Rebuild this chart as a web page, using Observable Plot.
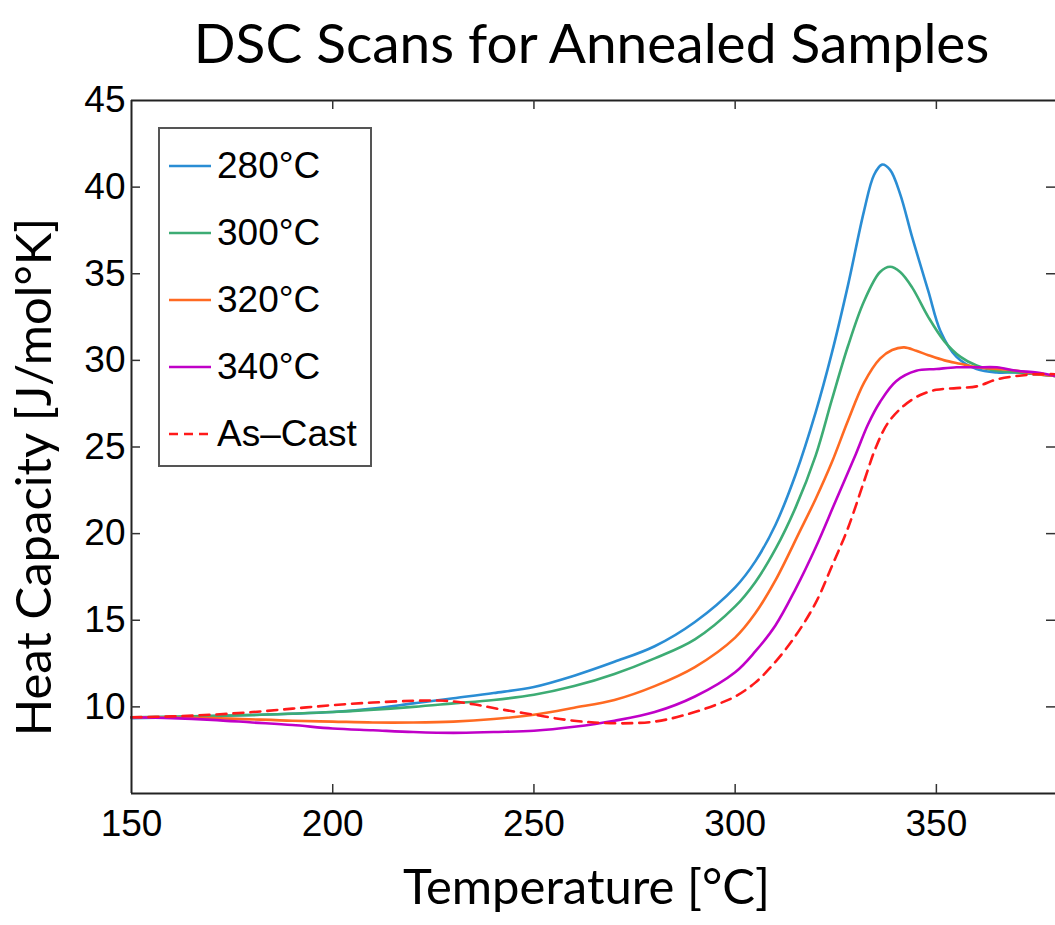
<!DOCTYPE html>
<html>
<head>
<meta charset="utf-8">
<script src="https://cdn.jsdelivr.net/npm/d3@7"></script>
<script src="https://cdn.jsdelivr.net/npm/@observablehq/plot@0.6"></script>
<style>
  body { margin: 0; background: #fff; }
  #wrap { position: relative; width: 1055px; height: 925px; overflow: hidden; background: #fff; }
  #legend { position: absolute; left: 158px; top: 127px; width: 210px; height: 336px;
            border: 2px solid #555; background: #fff; box-sizing: content-box; }
  .row { position: absolute; left: 0; height: 44px; display: flex; align-items: center; }
  .row svg { margin-left: 9px; margin-right: 6px; }
  .row span { font-family: "Liberation Sans", Arial, sans-serif; font-size: 37px; color: #000; line-height: 44px; }
</style>
</head>
<body>
<div id="wrap">
  <div id="chart"></div>
  <div id="legend"></div>
</div>
<script>
// ---- data ----
const seriesNames  = ["280°C", "300°C", "320°C", "340°C", "As–Cast"];
const seriesColors = ["#2a8dd4", "#3dac74", "#ff6a22", "#c000c8", "#ff1a1a"];
const xTicks = [150, 200, 250, 300, 350];
const yTicks = [10, 15, 20, 25, 30, 35, 40, 45];

const temps280 = [150,160,175,190,200,210,220,230,240,250,260,270,280,290,300,305,310,315,320,324,328,332,334.5,336.5,338.5,341,344,348,351,355,360,365,370,375,379.6];
const cp280    = [9.35,9.4,9.5,9.6,9.7,9.9,10.2,10.5,10.8,11.15,11.8,12.6,13.5,14.9,16.9,18.4,20.5,23.4,27.0,30.4,34.3,38.6,40.7,41.3,41.0,39.6,37.1,34.0,31.7,30.2,29.5,29.3,29.3,29.2,29.1];

const temps300 = [150,175,200,220,230,240,250,260,270,280,290,300,305,310,315,320,324,328,332,336,338.5,341,344,348,352,356,360,365,370,375,379.6];
const cp300    = [9.4,9.5,9.7,10.0,10.2,10.4,10.7,11.2,11.9,12.8,13.9,15.8,17.2,19.1,21.5,24.5,27.7,30.8,33.4,35.1,35.4,35.1,34.2,32.5,31.1,30.2,29.7,29.4,29.3,29.2,29.1];

const temps320 = [150,170,190,200,210,220,230,240,250,260,270,280,290,300,305,310,316,320,324,328,332,336,339,342,345,348,352,356,360,365,370,375,379.6];
const cp320    = [9.4,9.35,9.2,9.15,9.1,9.1,9.15,9.3,9.55,9.95,10.4,11.2,12.3,14.0,15.4,17.3,20.1,22.0,24.1,26.5,28.7,30.1,30.6,30.75,30.55,30.3,30.0,29.8,29.6,29.5,29.4,29.2,29.1];

const temps340 = [150,160,170,180,190,200,210,220,230,240,250,260,270,280,290,300,305,310,315,320,325,330,333,336,340,345,350,355,360,365,370,375,379.6];
const cp340    = [9.4,9.35,9.25,9.1,8.95,8.75,8.65,8.55,8.5,8.55,8.62,8.85,9.2,9.7,10.6,12.0,13.2,14.7,16.8,19.2,21.9,24.6,26.3,27.6,28.8,29.4,29.5,29.6,29.6,29.6,29.4,29.3,29.1];

const tempsCast = [150,160,170,180,190,200,210,220,228,235,242,250,258,265,272,280,287,295,300,305,310,315,320,324,328,332,335,338,342,346,350,355,360,365,370,375,379.6];
const cpCast    = [9.4,9.45,9.55,9.7,9.9,10.1,10.25,10.35,10.35,10.15,9.85,9.55,9.25,9.1,9.05,9.15,9.5,10.1,10.6,11.4,12.6,14.1,16.0,18.1,20.3,23.0,25.0,26.4,27.4,28.0,28.3,28.4,28.5,28.9,29.1,29.2,29.2];

// ---- build table ----
const rows = (name, T, C) => T.map((t, i) => ({series: name, T: t, Cp: C[i]}));
const solid = [
  ...rows(seriesNames[0], temps280, cp280),
  ...rows(seriesNames[1], temps300, cp300),
  ...rows(seriesNames[2], temps320, cp320),
  ...rows(seriesNames[3], temps340, cp340)
];
const cast = rows(seriesNames[4], tempsCast, cpCast);

const W = 1055, H = 925, mL = 131, mR = 0, mT = 100, mB = 132;
const innerW = W - mL - mR, innerH = H - mT - mB;
const tickLen = 9;
const axisColor = "#222";
const labelFont = "Lato, 'Open Sans', sans-serif";

const chart = Plot.plot({
  width: W, height: H,
  marginLeft: mL, marginRight: mR, marginTop: mT, marginBottom: mB,
  style: {fontFamily: "'Liberation Sans', Arial, sans-serif", background: "white", color: "#000"},
  x: {domain: [150, 379.6]},
  y: {domain: [5, 45]},
  color: {domain: seriesNames, range: seriesColors},
  marks: [
    Plot.line(solid, {x: "T", y: "Cp", z: "series", stroke: "series", strokeWidth: 2.6, curve: "catmull-rom"}),
    Plot.line(cast, {x: "T", y: "Cp", stroke: "series", strokeWidth: 2.6, strokeDasharray: "10,7", curve: "catmull-rom"}),
    // frame lines (left, bottom, top)
    Plot.ruleX([150], {stroke: axisColor, strokeWidth: 2}),
    Plot.ruleY([5], {stroke: axisColor, strokeWidth: 2}),
    Plot.ruleY([45], {stroke: axisColor, strokeWidth: 2}),
    // inward ticks
    Plot.tickX(xTicks.slice(1), {x: d => d, insetTop: innerH - tickLen, stroke: "#333", strokeWidth: 1.5}),
    Plot.tickX(xTicks.slice(1), {x: d => d, insetBottom: innerH - tickLen, stroke: "#333", strokeWidth: 1.5}),
    Plot.tickY(yTicks.slice(0, -1), {y: d => d, insetRight: innerW - tickLen, stroke: "#333", strokeWidth: 1.5}),
    Plot.tickY(yTicks.slice(0, -1), {y: d => d, insetLeft: innerW - tickLen, stroke: "#333", strokeWidth: 1.5}),
    // tick labels
    Plot.axisX({ticks: xTicks, tickSize: 0, tickPadding: 16, fontSize: 37, label: null}),
    Plot.axisY({ticks: yTicks, tickSize: 0, tickPadding: 6, fontSize: 37, label: null}),
    // titles
    Plot.text(["DSC Scans for Annealed Samples"], {frameAnchor: "top", dx: -2, dy: -77, fontSize: 55, fontFamily: labelFont, fill: "#000"}),
    Plot.text(["Temperature [°C]"], {frameAnchor: "bottom", dx: -7, dy: 110, fontSize: 49, fontFamily: labelFont, fill: "#000"}),
    Plot.text(["Heat Capacity [J/mol°K]"], {frameAnchor: "left", textAnchor: "middle", rotate: -90, dx: -96, dy: 30, fontSize: 49, fontFamily: labelFont, fill: "#000"})
  ]
});
document.getElementById("chart").appendChild(chart);

// ---- legend ----
const legend = document.getElementById("legend");
const rowCenters = [37, 104, 171, 238, 305];
seriesNames.forEach((name, i) => {
  const row = document.createElement("div");
  row.className = "row";
  row.style.top = (rowCenters[i] - 22) + "px";
  const dash = i === 4 ? ' stroke-dasharray="9,6"' : '';
  row.innerHTML = `<svg width="42" height="6"><line x1="0" y1="3" x2="42" y2="3" stroke="${seriesColors[i]}" stroke-width="2.6"${dash}/></svg><span>${name}</span>`;
  legend.appendChild(row);
});
</script>
</body>
</html>
